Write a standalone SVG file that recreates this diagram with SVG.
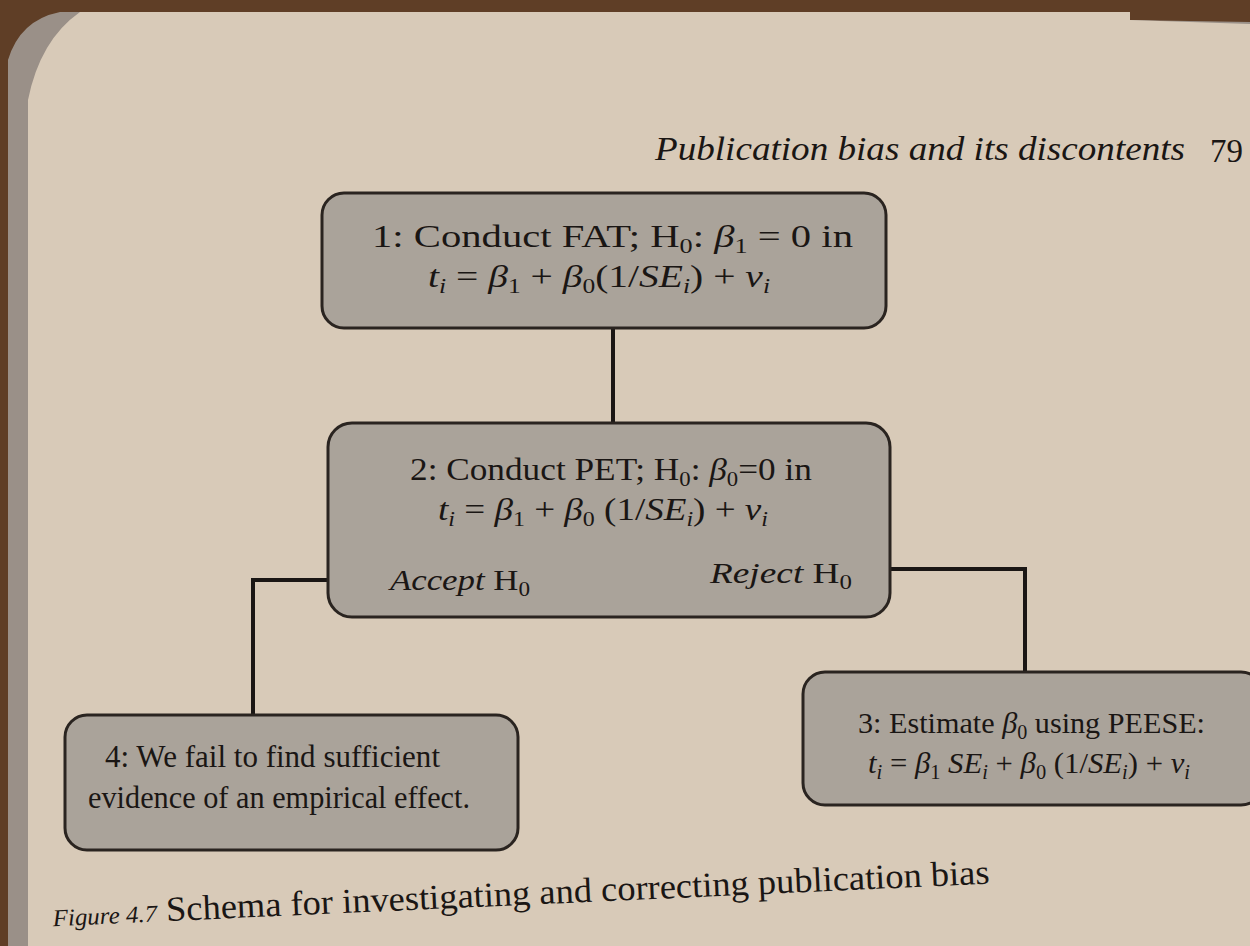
<svg xmlns="http://www.w3.org/2000/svg" width="1250" height="946" viewBox="0 0 1250 946">
<style>
.t{font-family:"Liberation Serif","Times New Roman",serif;fill:#1a1614}
.box{fill:#aaa39a;stroke:#2a2420;stroke-width:3}
.con{fill:none;stroke:#1a1614;stroke-width:4}
.i{font-style:italic}
</style>
<rect x="0" y="0" width="1250" height="946" fill="#5f3e26"/>
<path d="M8 60 Q20 20 60 12 L1130 12 L1130 20 L1250 22 L1250 946 L8 946 Z" fill="#9a9088"/>
<path d="M28 100 Q40 40 80 12 L1130 12 L1130 20 L1250 24 L1250 946 L28 946 Z" fill="#d8cab8"/>
<g id="header">
<text class="t i" x="655" y="160" font-size="34" textLength="530" lengthAdjust="spacingAndGlyphs">Publication bias and its discontents</text>
<text class="t" x="1210" y="162" font-size="33">79</text>
</g>
<g id="connectors">
<line class="con" x1="613" y1="328" x2="613" y2="424"/>
<polyline class="con" points="328,580 253,580 253,718"/>
<polyline class="con" points="890,569 1025,569 1025,673"/>
</g>
<g id="node1">
<rect class="box" x="322" y="193" width="564" height="135" rx="22"/>
<text class="t" x="372" y="247" font-size="31" textLength="481" lengthAdjust="spacingAndGlyphs">1:  Conduct FAT; H<tspan font-size="20" dy="6">0</tspan><tspan dy="-6">: </tspan><tspan class="i">β</tspan><tspan font-size="20" dy="6">1</tspan><tspan dy="-6"> = 0 in</tspan></text>
<text class="t" x="428" y="287" font-size="31" textLength="342" lengthAdjust="spacingAndGlyphs"><tspan class="i">t</tspan><tspan class="i" font-size="20" dy="6">i</tspan><tspan dy="-6"> = </tspan><tspan class="i">β</tspan><tspan font-size="20" dy="6">1</tspan><tspan dy="-6"> + </tspan><tspan class="i">β</tspan><tspan font-size="20" dy="6">0</tspan><tspan dy="-6">(1/</tspan><tspan class="i">SE</tspan><tspan class="i" font-size="20" dy="6">i</tspan><tspan dy="-6">) + </tspan><tspan class="i">v</tspan><tspan class="i" font-size="20" dy="6">i</tspan></text>
</g>
<g id="node2">
<rect class="box" x="328" y="423" width="562" height="194" rx="24"/>
<text class="t" x="410" y="480" font-size="31" textLength="402" lengthAdjust="spacingAndGlyphs">2:  Conduct PET; H<tspan font-size="20" dy="6">0</tspan><tspan dy="-6">: </tspan><tspan class="i">β</tspan><tspan font-size="20" dy="6">0</tspan><tspan dy="-6">=0 in</tspan></text>
<text class="t" x="438" y="520" font-size="31" textLength="330" lengthAdjust="spacingAndGlyphs"><tspan class="i">t</tspan><tspan class="i" font-size="20" dy="6">i</tspan><tspan dy="-6"> = </tspan><tspan class="i">β</tspan><tspan font-size="20" dy="6">1</tspan><tspan dy="-6"> + </tspan><tspan class="i">β</tspan><tspan font-size="20" dy="6">0</tspan><tspan dy="-6"> (1/</tspan><tspan class="i">SE</tspan><tspan class="i" font-size="20" dy="6">i</tspan><tspan dy="-6">) + </tspan><tspan class="i">v</tspan><tspan class="i" font-size="20" dy="6">i</tspan></text>
<text class="t" x="390" y="590" font-size="30" textLength="140" lengthAdjust="spacingAndGlyphs"><tspan class="i">Accept</tspan> H<tspan font-size="20" dy="6">0</tspan></text>
<text class="t" x="710" y="583" font-size="30" textLength="142" lengthAdjust="spacingAndGlyphs"><tspan class="i">Reject</tspan> H<tspan font-size="20" dy="6">0</tspan></text>
</g>
<g id="node3">
<rect class="box" x="803" y="672" width="460" height="133" rx="22"/>
<text class="t" x="858" y="733" font-size="30" textLength="347" lengthAdjust="spacingAndGlyphs">3: Estimate <tspan class="i">β</tspan><tspan font-size="20" dy="6">0</tspan><tspan dy="-6"> using PEESE:</tspan></text>
<text class="t" x="868" y="773" font-size="30" textLength="322" lengthAdjust="spacingAndGlyphs"><tspan class="i">t</tspan><tspan class="i" font-size="20" dy="6">i</tspan><tspan dy="-6"> = </tspan><tspan class="i">β</tspan><tspan font-size="20" dy="6">1</tspan><tspan class="i" dy="-6"> SE</tspan><tspan class="i" font-size="20" dy="6">i</tspan><tspan dy="-6"> + </tspan><tspan class="i">β</tspan><tspan font-size="20" dy="6">0</tspan><tspan dy="-6"> (1/</tspan><tspan class="i">SE</tspan><tspan class="i" font-size="20" dy="6">i</tspan><tspan dy="-6">) + </tspan><tspan class="i">v</tspan><tspan class="i" font-size="20" dy="6">i</tspan></text>
</g>
<g id="node4">
<rect class="box" x="65" y="715" width="453" height="135" rx="22"/>
<text class="t" x="105" y="767" font-size="31" textLength="335" lengthAdjust="spacingAndGlyphs">4: We fail to find sufficient</text>
<text class="t" x="88" y="808" font-size="31" textLength="382" lengthAdjust="spacingAndGlyphs">evidence of an empirical effect.</text>
</g>
<g id="caption" transform="rotate(-2.6 520 895)">
<text class="t" x="52" y="905" font-size="35" textLength="938" lengthAdjust="spacingAndGlyphs"><tspan class="i" font-size="24">Figure 4.7</tspan>  Schema for investigating and correcting publication bias</text>
</g>
</svg>
